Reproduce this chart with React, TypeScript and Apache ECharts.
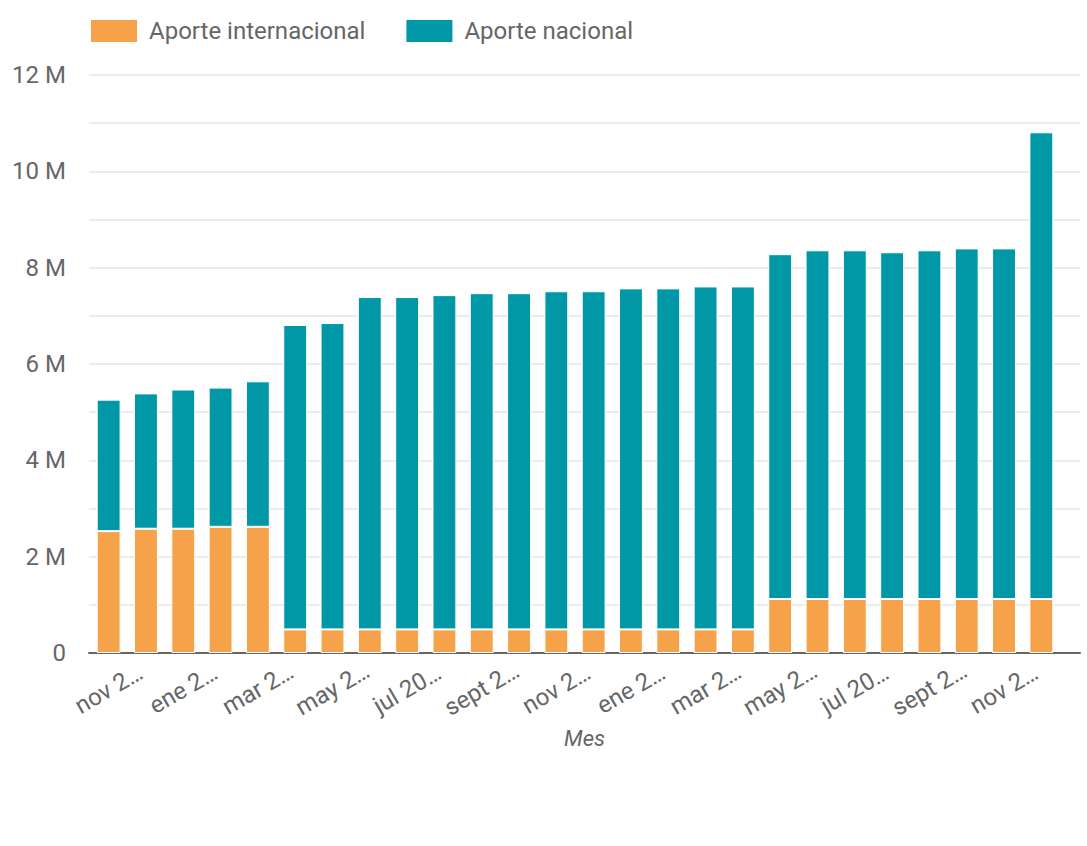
import React, { useEffect, useRef } from "react";
import * as echarts from "echarts";

const categories = [
  "nov 2021", "dic 2021", "ene 2022", "feb 2022", "mar 2022", "abr 2022",
  "may 2022", "jun 2022", "jul 2022", "ago 2022", "sept 2022", "oct 2022",
  "nov 2022", "dic 2022", "ene 2023", "feb 2023", "mar 2023", "abr 2023",
  "may 2023", "jun 2023", "jul 2023", "ago 2023", "sept 2023", "oct 2023",
  "nov 2023", "dic 2023",
];

// tick labels as displayed (truncated) on the axis, one per category
const tickLabels = [
  "nov 2…", "", "ene 2…", "", "mar 2…", "",
  "may 2…", "", "jul 20…", "", "sept 2…", "",
  "nov 2…", "", "ene 2…", "", "mar 2…", "",
  "may 2…", "", "jul 20…", "", "sept 2…", "",
  "nov 2…", "",
];

const aporteInternacional = [
  2530000, 2580000, 2580000, 2620000, 2620000, 490000,
  490000, 490000, 490000, 490000, 490000, 490000,
  490000, 490000, 490000, 490000, 490000, 490000,
  1120000, 1120000, 1120000, 1120000, 1120000, 1120000,
  1120000, 1120000,
];

const aporteNacional = [
  2730000, 2810000, 2890000, 2890000, 3020000, 6320000,
  6360000, 6900000, 6900000, 6940000, 6980000, 6980000,
  7020000, 7020000, 7080000, 7080000, 7120000, 7120000,
  7160000, 7240000, 7240000, 7200000, 7240000, 7280000,
  7280000, 9690000,
];

const seriesNames = ["Aporte internacional", "Aporte nacional"];
const yTicks = [0, 2000000, 4000000, 6000000, 8000000, 10000000, 12000000];

const FONT = "Roboto";
const TEXT = "#666666";

export default function App() {
  const ref = useRef<HTMLDivElement>(null);
  useEffect(() => {
    if (!ref.current) return;
    const chart = echarts.init(ref.current, null, { renderer: "svg" });
    chart.setOption({
      animation: false,
      textStyle: { fontFamily: FONT },
      color: ["#f6a24a", "#0097a7"],
      legend: {
        data: seriesNames,
        left: 89,
        top: 18,
        padding: 0,
        itemWidth: 48,
        itemHeight: 24,
        itemGap: 39,
        icon: "rect",
        textStyle: { fontFamily: FONT, fontSize: 24, color: TEXT, padding: [0, 0, 0, 6] },
      },
      grid: [
        { left: 90, right: 27, top: 75, bottom: 193, containLabel: false },
        { left: 89, right: 7, top: 75, bottom: 193, containLabel: false },
      ],
      xAxis: [
        {
          type: "category",
          gridIndex: 0,
          data: categories,
          axisLine: { show: false },
          axisTick: { show: false },
          axisLabel: {
            interval: 0,
            rotate: 30,
            align: "center",
            verticalAlign: "middle",
            margin: 36,
            fontSize: 24,
            color: TEXT,
            fontFamily: FONT,
            formatter: (_v: string, i: number) => tickLabels[i],
          },
        },
        {
          type: "value",
          gridIndex: 1,
          min: 0,
          max: 1,
          axisLine: { show: true, lineStyle: { color: "#666666", width: 2 } },
          axisTick: { show: false },
          axisLabel: { show: false },
          splitLine: { show: false },
          name: "Mes",
          nameLocation: "middle",
          nameGap: 74,
          nameTextStyle: { fontFamily: FONT, fontSize: 22, fontStyle: "italic", color: TEXT },
        },
      ],
      yAxis: [
        {
          type: "value",
          gridIndex: 0,
          min: 0,
          max: 12000000,
          interval: 1000000,
          axisLine: { show: false },
          axisTick: { show: false },
          splitLine: { show: false },
          axisLabel: {
            margin: 24,
            fontSize: 24,
            color: TEXT,
            fontFamily: FONT,
            formatter: (v: number) =>
              yTicks.indexOf(v) >= 0 ? (v === 0 ? "0" : v / 1000000 + " M") : "",
          },
        },
        {
          type: "value",
          gridIndex: 1,
          min: 0,
          max: 12000000,
          interval: 1000000,
          axisLine: { show: false },
          axisTick: { show: false },
          axisLabel: { show: false },
          splitLine: { show: true, lineStyle: { color: "#e6e6e6", width: 1.5 } },
        },
      ],
      series: [
        {
          name: seriesNames[0],
          type: "bar",
          stack: "total",
          xAxisIndex: 0,
          yAxisIndex: 0,
          barWidth: "64%",
          data: aporteInternacional,
          itemStyle: { borderColor: "#ffffff", borderWidth: 1 },
        },
        {
          name: seriesNames[1],
          type: "bar",
          stack: "total",
          xAxisIndex: 0,
          yAxisIndex: 0,
          barWidth: "64%",
          data: aporteNacional,
          itemStyle: { borderColor: "#ffffff", borderWidth: 1 },
        },
      ],
    });
    return () => chart.dispose();
  }, []);
  return (
    <div
      ref={ref}
      style={{ position: "absolute", left: 0, top: 0, width: 1087, height: 846 }}
    />
  );
}
